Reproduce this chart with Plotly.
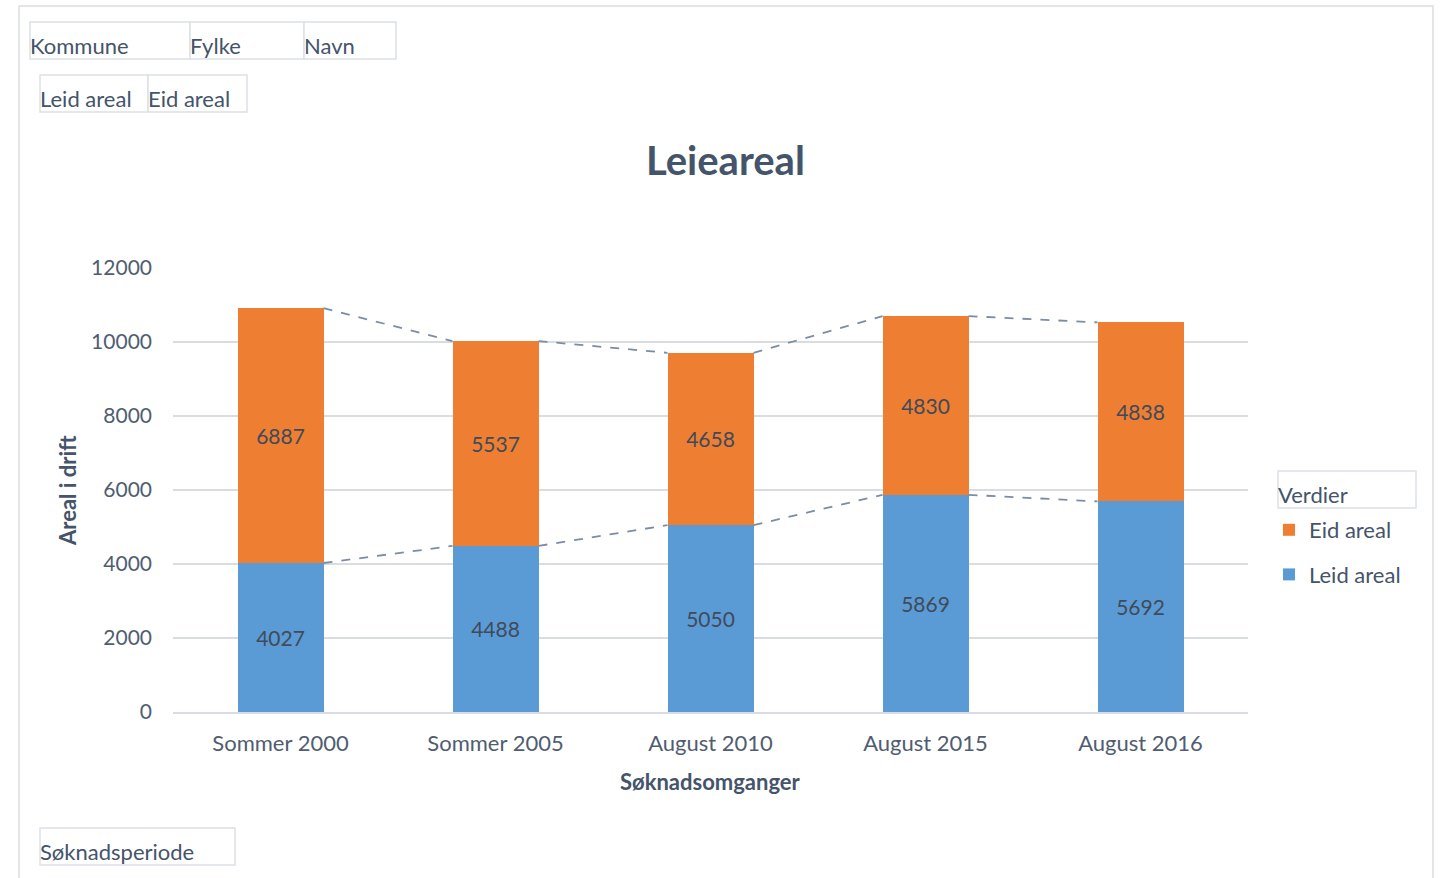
import plotly.graph_objects as go

categories = ["Sommer 2000", "Sommer 2005", "August 2010", "August 2015", "August 2016"]
leid_areal = [4027, 4488, 5050, 5869, 5692]
eid_areal = [6887, 5537, 4658, 4830, 4838]
y_ticks = [0, 2000, 4000, 6000, 8000, 10000, 12000]

FONT = "Lato"
TXT = "#44546A"
TICK = "#505D70"

# plot area in pixels
L, R, T, B = 173, 1248, 268, 712
W, H = 1450, 878


def px(x):
    return (x - L) / (R - L)


def py(y):
    return (B - y) / (B - T)


xpos = list(range(len(categories)))
totals = [a + b for a, b in zip(leid_areal, eid_areal)]
bw = 0.4

fig = go.Figure()
fig.add_trace(go.Bar(
    x=xpos, y=leid_areal, name="Leid areal", width=bw,
    marker=dict(color="#5B9BD5", line=dict(width=0)),
    text=leid_areal, texttemplate="%{text}", textposition="inside",
    insidetextanchor="middle", textangle=0, constraintext="none",
    textfont=dict(family=FONT, size=21, color="#404A5A"),
    legendgroup="leid", legendrank=2, hoverinfo="y+name",
))
fig.add_trace(go.Bar(
    x=xpos, y=eid_areal, name="Eid areal", width=bw,
    marker=dict(color="#EE7E32", line=dict(width=0)),
    text=eid_areal, texttemplate="%{text}", textposition="inside",
    insidetextanchor="middle", textangle=0, constraintext="none",
    textfont=dict(family=FONT, size=21, color="#404A5A"),
    legendgroup="eid", legendrank=1, hoverinfo="y+name",
))

# series lines (dashed) connecting stacked tops
for series in (leid_areal, totals):
    sx, sy = [], []
    for i in range(len(series) - 1):
        sx += [xpos[i] + bw / 2, xpos[i + 1] - bw / 2, None]
        sy += [series[i], series[i + 1], None]
    fig.add_trace(go.Scatter(
        x=sx, y=sy, mode="lines", showlegend=False, hoverinfo="skip",
        line=dict(color="#7C8CA3", width=1.8, dash="dash"),
    ))

shapes = []
annotations = []

# outer chart border
shapes.append(dict(type="rect", xref="paper", yref="paper",
                   x0=px(19), x1=px(1433), y0=py(6), y1=py(900),
                   line=dict(color="#DADDE2", width=1.5), fillcolor="rgba(0,0,0,0)", layer="below"))

buttons = [
    ("Kommune", 30, 190, 22, 59),
    ("Fylke", 190, 304, 22, 59),
    ("Navn", 304, 396, 22, 59),
    ("Leid areal", 40, 148, 75, 112),
    ("Eid areal", 148, 247, 75, 112),
    ("Søknadsperiode", 40, 235, 828, 865),
    ("Verdier", 1278, 1416, 471, 508),
]
for label, x0, x1, y0, y1 in buttons:
    shapes.append(dict(type="rect", xref="paper", yref="paper",
                       x0=px(x0), x1=px(x1), y0=py(y1), y1=py(y0),
                       line=dict(color="#DCE1E8", width=1.5), fillcolor="white"))
    annotations.append(dict(text=label, xref="paper", yref="paper",
                            x=px(x0 - 2), y=py((y0 + y1) / 2 + 5), xanchor="left", yanchor="middle",
                            showarrow=False, font=dict(family=FONT, size=22, color=TXT)))

annotations.append(dict(text="<b>Leieareal</b>", xref="paper", yref="paper",
                        x=px(726), y=py(160), xanchor="center", yanchor="middle",
                        showarrow=False, font=dict(family=FONT, size=40, color=TXT)))
annotations.append(dict(text="<b>Søknadsomganger</b>", xref="paper", yref="paper",
                        x=px(710), y=py(781), xanchor="center", yanchor="middle",
                        showarrow=False, font=dict(family=FONT, size=22, color=TXT)))
annotations.append(dict(text="<b>Areal i drift</b>", xref="paper", yref="paper",
                        x=px(67), y=py(491), xanchor="center", yanchor="middle", textangle=-90,
                        showarrow=False, font=dict(family=FONT, size=22, color=TXT)))

fig.update_layout(
    width=W, height=H,
    margin=dict(l=L, r=W - R, t=T, b=H - B, pad=0),
    paper_bgcolor="white", plot_bgcolor="white",
    barmode="stack", bargap=0.6,
    font=dict(family=FONT, color=TXT),
    shapes=shapes, annotations=annotations,
    showlegend=True,
    legend=dict(
        x=px(1269), y=py(509), xanchor="left", yanchor="top",
        traceorder="grouped", tracegroupgap=13,
        font=dict(family=FONT, size=22, color=TXT),
        bgcolor="rgba(0,0,0,0)", borderwidth=0, itemwidth=30,
    ),
    xaxis=dict(
        range=[-0.5, len(categories) - 0.5], tickmode="array", tickvals=xpos, ticktext=categories,
        showgrid=False, zeroline=False, showline=True, linecolor="#D9DCE1", linewidth=1.5,
        ticks="", tickfont=dict(family=FONT, size=22, color=TICK), ticklabelstandoff=11,
        fixedrange=True,
    ),
    yaxis=dict(
        range=[0, 12000], tickmode="array", tickvals=y_ticks, ticktext=[str(v) for v in y_ticks],
        showgrid=True, gridcolor="#D9DCE1", gridwidth=1.5, zeroline=False, showline=False,
        ticks="", tickfont=dict(family=FONT, size=21, color=TICK), ticklabelstandoff=20,
        fixedrange=True,
    ),
)

fig.write_html("out.html", config={"displayModeBar": False},
               post_script="document.body.style.margin='0';document.body.style.overflow='hidden';")
